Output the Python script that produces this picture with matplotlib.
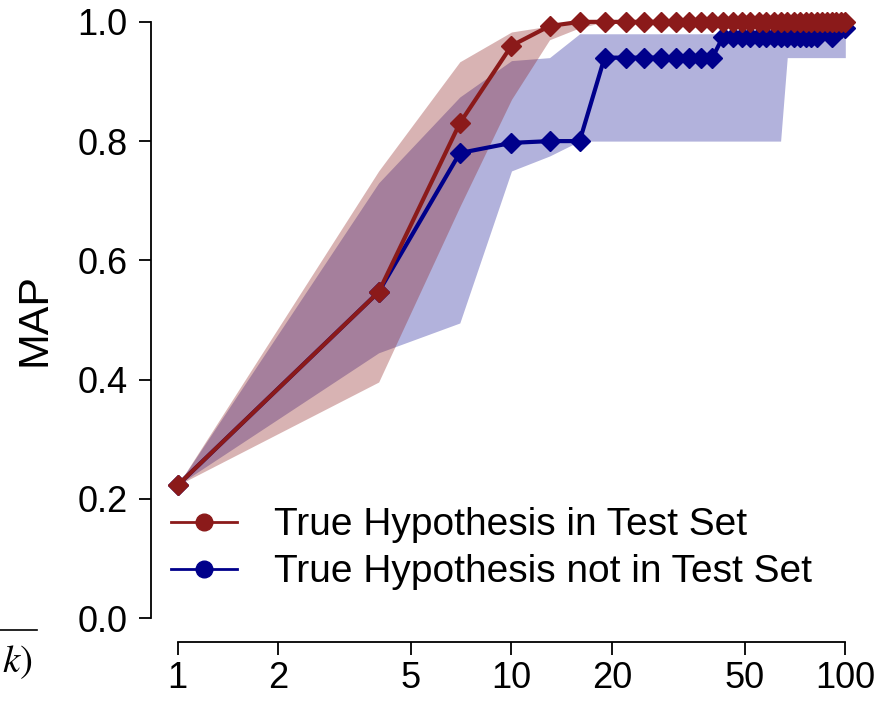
import matplotlib
matplotlib.use("Agg")
import matplotlib.pyplot as plt
from matplotlib.lines import Line2D

plt.rcParams['font.family'] = ['Liberation Sans', 'DejaVu Sans']
plt.rcParams['mathtext.fontset'] = 'stix'

# number of retrieved hypotheses k
k = [1, 4, 7, 10, 13, 16, 19, 22, 25, 28, 31, 34, 37, 40, 43, 46, 49,
     52, 55, 58, 61, 64, 67, 70, 73, 76, 79, 82, 85, 88, 91, 94, 97, 100]

# true hypothesis in test set
red_mean = [0.223, 0.547, 0.83, 0.96, 0.993] + [1.0] * 29
red_low = [0.223, 0.396, 0.69, 0.87, 0.97, 0.99] + [1.0] * 28
red_high = [0.223, 0.75, 0.933, 0.983, 0.993] + [1.0] * 29

# true hypothesis not in test set
blue_mean = ([0.223, 0.547, 0.78, 0.797, 0.80, 0.80] + [0.94] * 8 +
             [0.975] * 14 + [0.985, 0.985, 0.975, 0.99, 0.99, 0.99])
blue_low = [0.223, 0.445, 0.495, 0.75, 0.775] + [0.80] * 17 + [0.94] * 12
blue_high = [0.223, 0.73, 0.874, 0.935, 0.94] + [0.98] * 29

red = '#8b1a1a'
blue = '#00008b'

fig = plt.figure(figsize=(8.77, 7.01), dpi=100)
ax = fig.add_axes([151 / 877, 59 / 701, 721 / 877, 644 / 701])

ax.fill_between(k, blue_low, blue_high, color=blue, alpha=0.3, lw=0)
ax.fill_between(k, red_low, red_high, color=red, alpha=0.33, lw=0)
ax.plot(k, blue_mean, color=blue, lw=3, marker='D', ms=10.5, mec=blue)
ax.plot(k, red_mean, color=red, lw=3, marker='D', ms=10.5, mec=red)

ax.set_xscale('log')
ax.set_xlim(10 ** -0.08, 10 ** 2.08)
ax.set_ylim(-0.04, 1.04)

xt = [1, 2, 5, 10, 20, 50, 100]
ax.set_xticks(xt)
ax.set_xticklabels([str(v) for v in xt])
ax.minorticks_off()
yt = [0.0, 0.2, 0.4, 0.6, 0.8, 1.0]
ax.set_yticks(yt)
ax.set_yticklabels(['%.1f' % v for v in yt])

for s in ['top', 'right']:
    ax.spines[s].set_visible(False)
ax.spines['left'].set_bounds(0, 1)
ax.spines['bottom'].set_bounds(1, 100)
ax.spines['left'].set_linewidth(1.3)
ax.spines['bottom'].set_linewidth(1.3)
ax.tick_params(direction='out', length=9, width=1.3, labelsize=26, pad=8)
ax.tick_params(axis='x', pad=5)

ax.set_ylabel('MAP', fontsize=31, labelpad=16)

handles = [Line2D([], [], color=red, lw=2, marker='o', ms=12),
           Line2D([], [], color=blue, lw=2, marker='o', ms=12)]
ax.legend(handles, ['True Hypothesis in Test Set',
                    'True Hypothesis not in Test Set'],
          loc='lower left', bbox_to_anchor=(-0.01, 0.038), frameon=False,
          fontsize=28, handlelength=1.7, handletextpad=0.95, labelspacing=0.28,
          borderaxespad=0.3)

# fragment of neighbouring panel at left edge
fig.add_artist(Line2D([0, 37 / 877], [1 - 630 / 701, 1 - 630 / 701],
                      color='black', lw=1.2))
fig.text(0.002, 1 - 662 / 701, r'$k)$', fontsize=28, va='center', ha='left')

fig.savefig('out.png', dpi=100)
